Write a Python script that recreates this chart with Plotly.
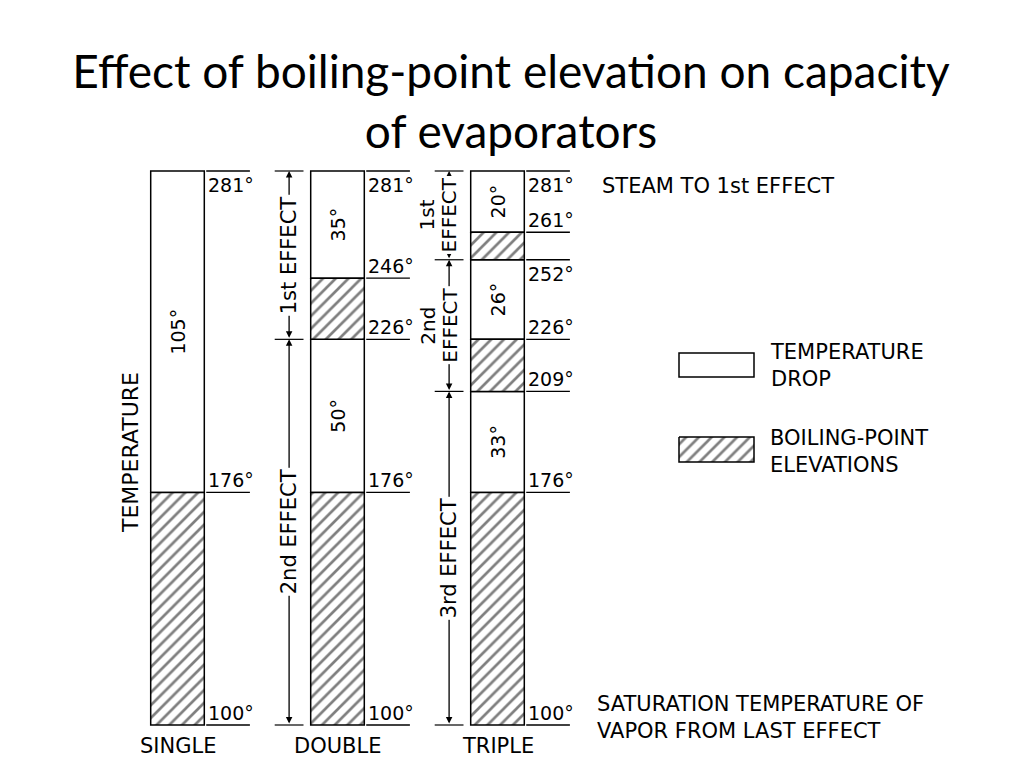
import plotly.graph_objects as go

# evaporator arrangements and their temperature steps (deg F)
configs = ["SINGLE", "DOUBLE", "TRIPLE"]
steam_temp = 281
temp_drops = [[105], [35, 50], [20, 26, 33]]
bp_elevations = [[76], [20, 76], [9, 17, 76]]
effect_names = ["1st", "2nd", "3rd"]

BAR_W = 0.335
DIAG_FONT = "DejaVu Sans"
PAGE_OFF = 8  # browser body margin


def px_x(p):
    return (p - PAGE_OFF) / 1024


def px_y(p):
    return 1 - (p - PAGE_OFF) / 768


# 281 deg at y=171px, 100 deg at y=725px, bars 160px apart (page pixels)
k = (725 - 171) / (281 - 100)
top_px = 171 - PAGE_OFF
y_range = [281 - (768 - top_px) / k, 281 + top_px / k]
x0_px = 177.5 - PAGE_OFF
x_range = [-x0_px / 160, (1024 - x0_px) / 160]

drop_x, drop_base, drop_h, drop_txt = [], [], [], []
bpe_x, bpe_base, bpe_h = [], [], []
shapes, annotations = [], []


def line(x0, x1, y0, y1, w=1.4):
    return dict(type="line", xref="x", yref="y", x0=x0, x1=x1, y0=y0, y1=y1,
                line=dict(color="black", width=w))


def vtext(x, y, text, xshift=0, bg=None, size=20):
    a = dict(x=x, y=y, xref="x", yref="y", text=text, showarrow=False, textangle=-90,
             xanchor="center", yanchor="middle", xshift=xshift,
             font=dict(family=DIAG_FONT, size=size, color="black"))
    if bg:
        a["bgcolor"] = bg
    return a


for i, name in enumerate(configs):
    t = steam_temp
    temps = [t]
    bounds = [t]
    for d, b in zip(temp_drops[i], bp_elevations[i]):
        drop_x.append(i); drop_base.append(t - d); drop_h.append(d); drop_txt.append(f"{d}°")
        t -= d
        temps.append(t)
        bpe_x.append(i); bpe_base.append(t - b); bpe_h.append(b)
        t -= b
        temps.append(t)
        bounds.append(t)

    # temperature labels to the right of each bar
    right = i + BAR_W / 2
    for T in temps:
        below = T in (281, 252)
        shapes.append(line(right + 0.012, right + 0.285, T, T))
        annotations.append(dict(x=right + 0.012, y=T, xref="x", yref="y", text=f"{T}°",
                                showarrow=False, xanchor="left",
                                yanchor="top" if below else "bottom", yshift=-1,
                                font=dict(family=DIAG_FONT, size=19, color="black")))

    # effect arrows on the left of multi-effect bars
    if len(bounds) > 2:
        ax_x = i - BAR_W / 2 - 0.135
        for T in bounds:
            shapes.append(line(ax_x - 0.09, ax_x + 0.09, T, T, w=1.2))
        for j in range(len(bounds) - 1):
            top, bot = bounds[j], bounds[j + 1]
            mid = (top + bot) / 2
            annotations.append(dict(x=ax_x, y=top, ax=ax_x, ay=bot, xref="x", yref="y",
                                    axref="x", ayref="y", text="", showarrow=True,
                                    arrowhead=2, startarrowhead=2, arrowside="end+start",
                                    arrowsize=1, arrowwidth=1.3, arrowcolor="black"))
            if (top - bot) < 50:
                annotations.append(vtext(ax_x, mid, effect_names[j], xshift=-22))
                annotations.append(vtext(ax_x, mid, "EFFECT", bg="white"))
            else:
                annotations.append(vtext(ax_x, mid, f"{effect_names[j]} EFFECT", bg="white",
                                         size=21))

    annotations.append(dict(x=i, y=100, xref="x", yref="y", text=name, showarrow=False,
                            xanchor="center", yanchor="middle", yshift=-21,
                            font=dict(family=DIAG_FONT, size=21, color="black")))

fig = go.Figure()
fig.add_trace(go.Bar(
    x=drop_x, y=drop_h, base=drop_base, width=BAR_W, name="TEMPERATURE DROP",
    text=drop_txt, textposition="inside", insidetextanchor="middle", textangle=-90,
    textfont=dict(family=DIAG_FONT, size=19, color="black"),
    marker=dict(color="white", line=dict(color="black", width=1.5)),
))
fig.add_trace(go.Bar(
    x=bpe_x, y=bpe_h, base=bpe_base, width=BAR_W, name="BOILING-POINT ELEVATIONS",
    marker=dict(color="white", line=dict(color="black", width=1.5),
                pattern=dict(shape="/", fgcolor="black", bgcolor="white", size=9, solidity=0.3)),
))

# legend swatches drawn on an overlay axis in page fractions
sx0, sx1 = px_x(679), px_x(754)
hy0, hy1 = px_y(462), px_y(437)
fig.add_trace(go.Scatter(
    x=[sx0, sx1, sx1, sx0, sx0], y=[hy1, hy1, hy0, hy0, hy1],
    xaxis="x2", yaxis="y2", mode="lines", fill="toself", fillcolor="white",
    line=dict(color="black", width=1.5),
    fillpattern=dict(shape="/", fgcolor="black", bgcolor="white", size=9, solidity=0.3),
    hoverinfo="skip",
))
shapes.append(dict(type="rect", xref="paper", yref="paper", x0=sx0, x1=sx1,
                   y0=px_y(377), y1=px_y(353), line=dict(color="black", width=1.5),
                   fillcolor="white"))

side_font = dict(family=DIAG_FONT, size=21, color="black")
annotations += [
    dict(x=px_x(130), y=px_y(453), xref="paper", yref="paper", text="TEMPERATURE",
         textangle=-90, showarrow=False, xanchor="center", yanchor="middle",
         font=dict(family=DIAG_FONT, size=22, color="black")),
    dict(x=px_x(600), y=steam_temp, xref="paper", yref="y", text="STEAM TO 1st EFFECT",
         showarrow=False, xanchor="left", yanchor="middle", yshift=-15, font=side_font),
    dict(x=px_x(595), y=100, xref="paper", yref="y",
         text="SATURATION TEMPERATURE OF<br>VAPOR FROM LAST EFFECT",
         showarrow=False, xanchor="left", yanchor="middle", align="left", yshift=8,
         font=side_font),
    dict(x=px_x(768), y=px_y(365), xref="paper", yref="paper", text="TEMPERATURE<br>DROP",
         showarrow=False, xanchor="left", yanchor="middle", align="left", font=side_font),
    dict(x=px_x(768), y=px_y(451), xref="paper", yref="paper",
         text="BOILING-POINT<br>ELEVATIONS",
         showarrow=False, xanchor="left", yanchor="middle", align="left", font=side_font),
]

fig.update_layout(
    width=1024, height=768,
    margin=dict(l=0, r=0, t=0, b=0),
    plot_bgcolor="white", paper_bgcolor="white",
    barmode="overlay", showlegend=False,
    title=dict(text="Effect of boiling-point elevation on capacity<br>of evaporators",
               x=px_x(511), xanchor="center", y=1 - 80 / 768, yanchor="middle",
               font=dict(family="Lato", size=46, color="black")),
    xaxis=dict(range=x_range, visible=False, fixedrange=True),
    yaxis=dict(range=y_range, visible=False, fixedrange=True),
    xaxis2=dict(range=[0, 1], overlaying="x", visible=False),
    yaxis2=dict(range=[0, 1], overlaying="y", visible=False),
    shapes=shapes, annotations=annotations,
)

fig.write_html("out.html")
